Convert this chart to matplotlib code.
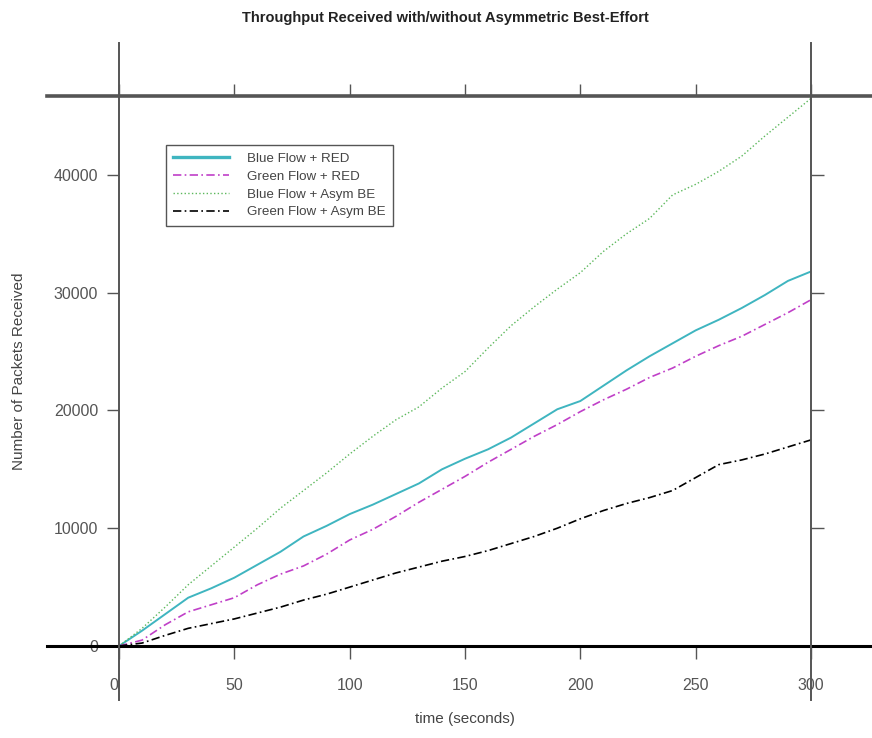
import matplotlib
matplotlib.use('Agg')
import matplotlib.pyplot as plt

plt.rcParams['font.family'] = ['Liberation Sans', 'DejaVu Sans']

# time in seconds
time_s = [0, 10, 20, 30, 40, 50, 60, 70, 80, 90, 100, 110, 120, 130, 140, 150,
          160, 170, 180, 190, 200, 210, 220, 230, 240, 250, 260, 270, 280, 290, 300]

# packets received
blue_red = [0, 1300, 2700, 4100, 4900, 5800, 6900, 8000, 9300, 10200, 11200, 12000,
            12900, 13800, 15000, 15900, 16700, 17700, 18900, 20100, 20800, 22100,
            23400, 24600, 25700, 26800, 27700, 28700, 29800, 31000, 31800]
green_red = [0, 500, 1800, 2900, 3500, 4100, 5200, 6100, 6800, 7800, 9000, 9900,
             11000, 12200, 13300, 14400, 15600, 16700, 17800, 18800, 19900, 20900,
             21800, 22800, 23600, 24600, 25500, 26300, 27300, 28300, 29400]
blue_asym = [0, 1500, 3300, 5200, 6800, 8400, 10000, 11700, 13200, 14700, 16300,
             17800, 19200, 20300, 21900, 23300, 25300, 27200, 28800, 30300, 31700,
             33500, 35000, 36300, 38300, 39200, 40300, 41600, 43300, 44900, 46500]
green_asym = [0, 250, 900, 1500, 1900, 2300, 2800, 3300, 3900, 4400, 5000, 5600,
              6200, 6700, 7200, 7600, 8100, 8700, 9300, 10000, 10800, 11500, 12100,
              12600, 13200, 14300, 15400, 15800, 16300, 16900, 17500]

x_ticks = [0, 50, 100, 150, 200, 250, 300]
x_labels = ['0  ', '50', '100', '150', '200', '250', '300']
y_ticks = [0, 10000, 20000, 30000, 40000]
y_top = 46700

W, H = 872, 738
fig = plt.figure(figsize=(W / 100, H / 100), dpi=100)
ax = fig.add_axes([119 / W, (H - 646) / H, (811 - 119) / W, (646 - 96) / H])
ax.set_xlim(0, 300)
ax.set_ylim(0, y_top)
for s in ax.spines.values():
    s.set_visible(False)

# frame lines that run past the plot box
ax.plot([-31, 327], [0, 0], color='black', lw=2.2, clip_on=False, zorder=5)
ax.plot([-31, 327], [y_top, y_top], color='#555555', lw=2.6, clip_on=False, zorder=5)
ax.plot([0, 0], [-4600, 51200], color='#555555', lw=1.4, clip_on=False, zorder=5)
ax.plot([300, 300], [-4600, 51200], color='#555555', lw=1.4, clip_on=False, zorder=5)

ax.plot(time_s, blue_red, color='#3fb5c0', lw=1.4, label='Blue Flow + RED')
ax.plot(time_s, green_red, color='#c040c8', lw=1.2, ls='-.', dashes=(5, 2, 1, 2),
        label='Green Flow + RED')
ax.plot(time_s, blue_asym, color='#5cb85c', lw=1.0, ls=':', label='Blue Flow + Asym BE')
ax.plot(time_s, green_asym, color='black', lw=1.2, ls='-.', dashes=(5, 2, 1, 2),
        label='Green Flow + Asym BE')

ax.set_xticks(x_ticks)
ax.set_yticks(y_ticks)
ax.tick_params(axis='x', direction='out', length=9, width=1, color='#555555',
               labelsize=11.5, labelcolor='#555555', pad=14, top=True)
ax.tick_params(axis='y', direction='out', length=9, width=1, color='#555555',
               labelsize=11.5, labelcolor='#555555', pad=6, right=True)
ax.set_xticklabels(x_labels)

ax.set_xlabel('time (seconds)', fontsize=11, color='#444444', labelpad=14)
ax.set_ylabel('Number of Packets Received', fontsize=11, color='#444444', labelpad=20)
fig.text(445 / W, 1 - 18 / H, 'Throughput Received with/without Asymmetric Best-Effort',
         ha='center', va='center', fontsize=10.5, fontweight='bold', color='#222222')

leg = ax.legend(loc='upper left', bbox_to_anchor=((166 - 119) / 692, 1 - (145 - 96) / 550),
                fontsize=9.6, frameon=True, fancybox=False, framealpha=1,
                edgecolor='#555555', handlelength=4.2, handletextpad=1.3,
                labelspacing=0.42, borderpad=0.55, borderaxespad=0)
leg.get_frame().set_linewidth(1.0)
leg.get_lines()[0].set_linewidth(2.4)
for t in leg.get_texts():
    t.set_color('#444444')

fig.savefig('out.png', dpi=100)
